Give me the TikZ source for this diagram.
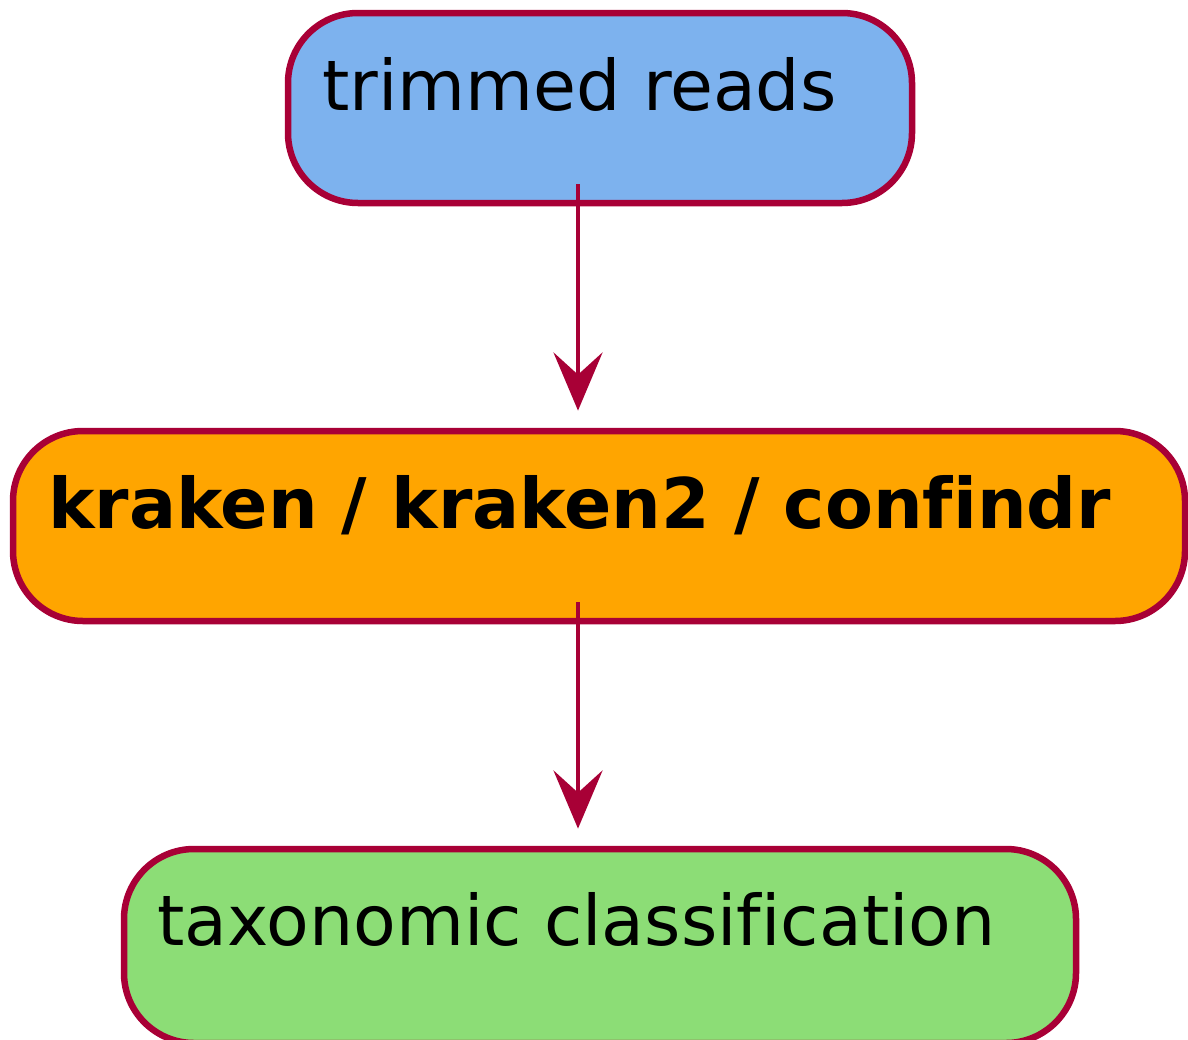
\documentclass[tikz,border=0pt]{standalone}
\usepackage{fontspec}
\setmainfont[Ligatures=NoCommon]{DejaVu Sans}
\definecolor{edge}{HTML}{A80036}
\definecolor{readsfill}{HTML}{7DB2EE}
\definecolor{toolfill}{HTML}{FFA500}
\definecolor{resultfill}{HTML}{8CDD76}
\tikzset{
  stage/.style={draw=edge, line width=6.5pt, rounded corners=70pt},
  label/.style={anchor=base west, inner sep=0pt, font=\fontsize{69.8}{80}\selectfont},
  flow/.style={draw=edge, line width=4pt},
  head/.style={draw=edge, fill=edge, line width=2pt, line join=miter}
}
\begin{document}
\begin{tikzpicture}[x=1pt,y=-1pt]
\useasboundingbox (0,0) rectangle (1188,1039);
% stage boxes
\draw[stage, fill=readsfill] (288,13) rectangle (912,203);
\draw[stage, fill=toolfill] (13,431) rectangle (1185,621);
\draw[stage, fill=resultfill] (124,849) rectangle (1076,1043);
% labels
\node[label] (reads) at (322,110) {trimmed reads};
\node[label, font=\fontsize{69.8}{80}\selectfont\bfseries] (tool) at (48,528) {kraken / kraken2 / confindr};
\node[label] (result) at (157,945) {taxonomic classification};
% connector anchors
\coordinate (a1) at (578,184);
\coordinate (a1t) at (578,408);
\coordinate (a2) at (578,602);
\coordinate (a2t) at (578,826);
% connectors
\draw[flow] (a1) -- (578,390);
\draw[head] (a1t) -- (556,356) -- (578,376) -- (600,356) -- cycle;
\draw[flow] (a2) -- (578,808);
\draw[head] (a2t) -- (556,774) -- (578,794) -- (600,774) -- cycle;
\end{tikzpicture}
\end{document}
